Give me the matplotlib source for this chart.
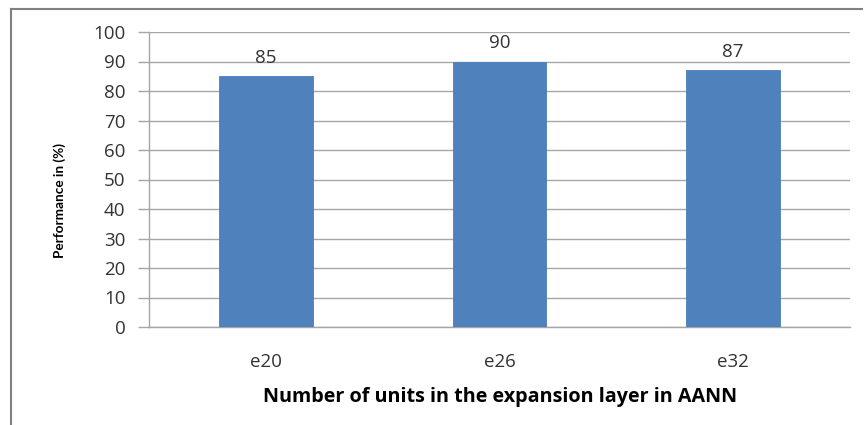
import matplotlib
matplotlib.use("Agg")
import matplotlib.pyplot as plt
from matplotlib.lines import Line2D

categories = ["e20", "e26", "e32"]
values = [85, 90, 87]
yticks = [0, 10, 20, 30, 40, 50, 60, 70, 80, 90, 100]

plt.rcParams['font.family'] = ['Open Sans', 'DejaVu Sans']

fig = plt.figure(figsize=(8.64, 4.25), dpi=100)
W, H = 864, 425
left, right, top, bottom = 149, 850, 32, 327
ax = fig.add_axes([left / W, 1 - bottom / H, (right - left) / W, (bottom - top) / H])

x = list(range(len(categories)))
ax.bar(x, values, width=0.4, color="#4f81bd", edgecolor="#4a7ebb", linewidth=0.6, zorder=3)
for xi, v in zip(x, values):
    ax.text(xi, v + 3.3, f"{v}", ha="center", va="bottom", fontsize=13.5, color="#333333")

ax.set_xlim(-0.5, len(categories) - 0.5)
ax.set_ylim(0, 100)
ax.set_yticks(yticks)
ax.set_yticklabels([str(t) for t in yticks], fontsize=13.5, color="#333333")
ax.set_xticks(x)
ax.set_xticklabels(categories, fontsize=13.5, color="#333333")
ax.yaxis.grid(True, color="#a6a6a6", linewidth=1.0, zorder=0)
ax.tick_params(axis="y", length=8, color="#a6a6a6", width=1.0, pad=9)
ax.tick_params(axis="x", length=0, pad=19)
for s in ["top", "right"]:
    ax.spines[s].set_visible(False)
ax.spines["left"].set_color("#a6a6a6")
ax.spines["bottom"].set_color("#a6a6a6")
ax.spines["left"].set_linewidth(1.0)
ax.spines["bottom"].set_linewidth(1.0)

fig.text(60 / W, 1 - 201 / H, "Performance in (%)", rotation=90, ha="center", va="center",
         fontsize=9.8, fontweight="bold", color="black", family=['Lato', 'DejaVu Sans'])
fig.text(500 / W, 1 - 397 / H, "Number of units in the expansion layer in AANN",
         ha="center", va="center", fontsize=14.2, fontweight="bold", color="black")

# outer frame lines (left and top)
fig.add_artist(Line2D([11 / W, 11 / W], [0, 1 - 9 / H], transform=fig.transFigure, color="#808080", linewidth=1.5))
fig.add_artist(Line2D([11 / W, 862 / W], [1 - 9 / H, 1 - 9 / H], transform=fig.transFigure, color="#808080", linewidth=1.5))

fig.savefig("out.png", dpi=100)
